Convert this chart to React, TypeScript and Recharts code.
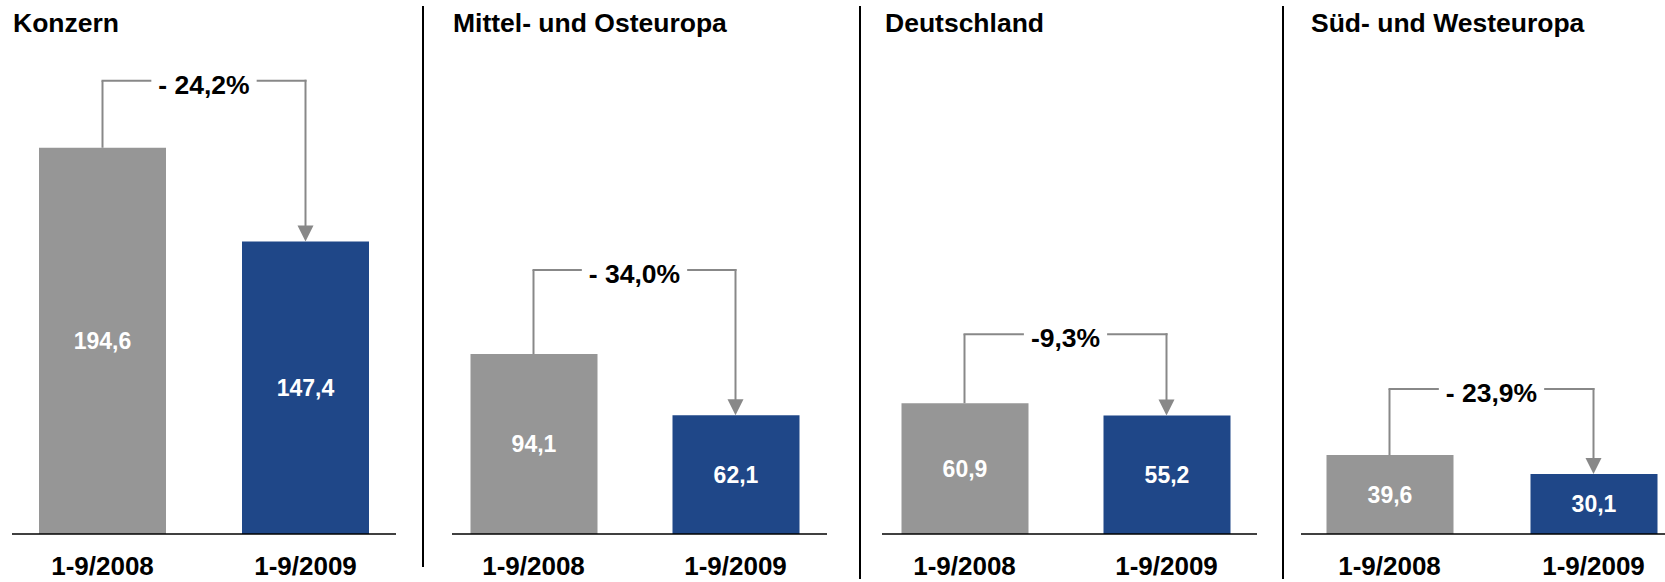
import React from "react";
import { BarChart, Bar, XAxis, YAxis, Cell, LabelList, ReferenceLine } from "recharts";

// Absatz je Region, Jan-Sep 2008 vs 2009
const PERIODS = ["1-9/2008", "1-9/2009"];
const REGIONS = ["Konzern", "Mittel- und Osteuropa", "Deutschland", "Süd- und Westeuropa"];
const VALUES_2008 = [194.6, 94.1, 60.9, 39.6];
const VALUES_2009 = [147.4, 62.1, 55.2, 30.1];
const CHANGE_LABELS = ["- 24,2%", "- 34,0%", "-9,3%", "- 23,9%"];
// every panel has its own value scale in the original slide
const Y_MAX = [264, 274, 244, 263];

const BAR_COLORS = ["#969696", "#1F4788"];
const BRACKET_COLOR = "#888888";
const FONT = '"Liberation Sans", Arial, Helvetica, sans-serif';

const CHART_W = 1665;
const CHART_H = 582;
const PLOT_TOP = 10;
const AXIS_H = 48;
const PLOT_H = CHART_H - PLOT_TOP - AXIS_H;
const SIDE = 20;

// axis line extents, bar centres, title x and bracket headroom (px) per panel
const LAYOUT = [
  { axisStart: 12, axisEnd: 396, c1: 102.5, c2: 305.5, titleX: 13, bracketGap: 67 },
  { axisStart: 452, axisEnd: 827, c1: 533.5, c2: 735.5, titleX: 453, bracketGap: 84 },
  { axisStart: 882, axisEnd: 1257, c1: 964.5, c2: 1166.5, titleX: 885, bracketGap: 69 },
  { axisStart: 1301, axisEnd: 1665, c1: 1389.5, c2: 1593.5, titleX: 1311, bracketGap: 66 },
];
const DIVIDERS = [
  { x: 422, top: 6, bottom: 567 },
  { x: 858.5, top: 6, bottom: 579 },
  { x: 1281.5, top: 6, bottom: 579 },
];

// Arial bold advance widths (em) for the characters we need
const GLYPH_W: Record<string, number> = { "-": 0.333, " ": 0.278, ",": 0.278, "%": 0.889 };
const textWidth = (s: string, size: number) =>
  [...s].reduce((acc, c) => acc + (GLYPH_W[c] ?? 0.556), 0) * size;

const fmt = (v: number) => v.toFixed(1).replace(".", ",");

function BracketTop(p: any, text: string) {
  const xl = Math.min(p.x1, p.x2);
  const xr = Math.max(p.x1, p.x2);
  const y = p.y1;
  const mid = (xl + xr) / 2;
  const half = textWidth(text, 26.5) / 2 + 8;
  return (
    <g>
      <line x1={xl} y1={y} x2={mid - half} y2={y} stroke={BRACKET_COLOR} strokeWidth={2} strokeLinecap="square" />
      <line x1={mid + half} y1={y} x2={xr} y2={y} stroke={BRACKET_COLOR} strokeWidth={2} strokeLinecap="square" />
      <text x={mid} y={y + 13} textAnchor="middle" fontFamily={FONT} fontSize={26.5} fontWeight="bold" fill="#000">
        {text}
      </text>
    </g>
  );
}

function ArrowDown(p: any) {
  const x = p.x1;
  const top = Math.min(p.y1, p.y2);
  const tip = Math.max(p.y1, p.y2);
  return (
    <g>
      <line x1={x} y1={top} x2={x} y2={tip - 15} stroke={BRACKET_COLOR} strokeWidth={2} strokeLinecap="square" />
      <polygon points={`${x - 8},${tip - 16} ${x + 8},${tip - 16} ${x},${tip}`} fill={BRACKET_COLOR} />
    </g>
  );
}

function Panel({ idx }: { idx: number }) {
  const lay = LAYOUT[idx];
  const v1 = VALUES_2008[idx];
  const v2 = VALUES_2009[idx];
  const data = [
    { period: PERIODS[0], value: v1 },
    { period: PERIODS[1], value: v2 },
  ];
  const band = lay.c2 - lay.c1;
  const padLeft = lay.c1 - band / 2 - lay.axisStart;
  const padRight = lay.axisEnd - (lay.c2 + band / 2);
  const level = Math.max(v1, v2) + (lay.bracketGap * Y_MAX[idx]) / PLOT_H;
  const width = lay.axisEnd - lay.axisStart + SIDE * 2;

  return (
    <div style={{ position: "absolute", left: lay.axisStart - SIDE, top: 0 }}>
      <BarChart
        width={width}
        height={CHART_H}
        data={data}
        margin={{ top: PLOT_TOP, right: SIDE, bottom: 0, left: SIDE }}
      >
        <XAxis
          dataKey="period"
          height={AXIS_H}
          interval={0}
          tickLine={false}
          tickSize={0}
          tickMargin={23}
          padding={{ left: padLeft, right: padRight }}
          axisLine={{ stroke: "#000", strokeWidth: 1.5 }}
          tick={{ fill: "#000", fontSize: 26, fontWeight: "bold", fontFamily: FONT }}
        />
        <YAxis hide domain={[0, Y_MAX[idx]]} />
        <Bar dataKey="value" barSize={127} isAnimationActive={false}>
          {data.map((d, i) => (
            <Cell key={d.period} fill={BAR_COLORS[i]} />
          ))}
          <LabelList
            dataKey="value"
            position="center"
            formatter={(v: any) => fmt(Number(v))}
            fill="#fff"
            fontSize={23}
            fontWeight="bold"
            fontFamily={FONT}
          />
        </Bar>
        <ReferenceLine
          ifOverflow="visible"
          segment={[{ x: PERIODS[0], y: v1 }, { x: PERIODS[0], y: level }]}
          stroke={BRACKET_COLOR}
          strokeWidth={2}
        />
        <ReferenceLine
          ifOverflow="visible"
          segment={[{ x: PERIODS[0], y: level }, { x: PERIODS[1], y: level }]}
          shape={(p: any) => BracketTop(p, CHANGE_LABELS[idx])}
        />
        <ReferenceLine
          ifOverflow="visible"
          segment={[{ x: PERIODS[1], y: level }, { x: PERIODS[1], y: v2 }]}
          shape={ArrowDown}
        />
      </BarChart>
    </div>
  );
}

export default function App() {
  return (
    <div
      style={{
        position: "relative",
        width: CHART_W,
        height: CHART_H,
        background: "#fff",
        overflow: "hidden",
        fontFamily: FONT,
      }}
    >
      <style>{"body{margin:0}"}</style>
      {REGIONS.map((_, i) => (
        <Panel key={i} idx={i} />
      ))}
      {REGIONS.map((name, i) => (
        <div
          key={name}
          style={{
            position: "absolute",
            left: LAYOUT[i].titleX,
            top: 9.6,
            fontSize: 26.5,
            lineHeight: "26.5px",
            fontWeight: "bold",
            color: "#000",
            whiteSpace: "nowrap",
          }}
        >
          {name}
        </div>
      ))}
      {DIVIDERS.map((d) => (
        <div
          key={d.x}
          style={{
            position: "absolute",
            left: d.x,
            top: d.top,
            width: 2,
            height: d.bottom - d.top,
            background: "#000",
          }}
        />
      ))}
    </div>
  );
}
